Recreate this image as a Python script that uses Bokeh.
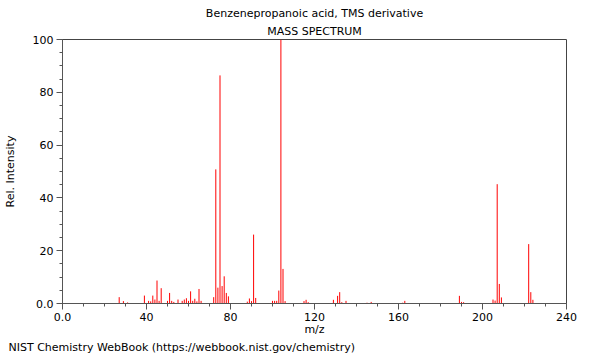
from bokeh.plotting import figure
from bokeh.models import Range1d, FixedTicker, Title, ColumnDataSource
from bokeh.embed import file_html
from bokeh.resources import INLINE

title_main = "Benzenepropanoic acid, TMS derivative"
title_sub = "MASS SPECTRUM"
x_label = "m/z"
y_label = "Rel. Intensity"
footer = "NIST Chemistry WebBook (https://webbook.nist.gov/chemistry)"

mz = [27, 29, 31, 39, 41, 42, 43, 44, 45, 46, 47, 50, 51, 52, 53, 55, 57, 58, 59, 60,
      61, 62, 63, 64, 65, 66, 72, 73, 74, 75, 76, 77, 78, 79, 88, 89, 90, 91, 92,
      100, 101, 102, 103, 104, 105, 106, 115, 116, 117, 129, 131, 132, 133, 135,
      145, 147, 162, 163, 189, 190, 191, 205, 206, 207, 208, 209, 222, 223, 224]
intensity = [2.4, 0.9, 0.4, 3.0, 1.0, 0.8, 3.0, 1.5, 8.7, 1.0, 5.8, 1.0, 4.0, 1.0, 0.6, 1.5, 1.0, 1.5, 2.0, 1.0,
             4.6, 1.0, 1.8, 0.8, 5.5, 1.0, 2.4, 50.8, 6.0, 86.4, 6.6, 10.3, 4.0, 2.7, 0.7, 1.9, 0.9, 26.1, 2.1,
             1.0, 1.0, 1.0, 4.9, 100.0, 13.1, 0.9, 0.9, 1.4, 0.5, 1.4, 2.9, 4.3, 0.5, 1.0,
             0.3, 0.6, 0.3, 1.0, 2.9, 0.6, 0.5, 1.5, 1.1, 45.2, 7.4, 2.3, 22.5, 4.3, 1.4]

x_major = [0, 40, 80, 120, 160, 200, 240]
x_minor = [v for v in range(0, 241, 10)]
y_major = [0, 20, 40, 60, 80, 100]
y_minor = [v for v in range(0, 101, 5)]

FONT = "DejaVu Sans"
FS = "11px"
AX = "#555555"

src = ColumnDataSource(dict(x=mz, y0=[0] * len(mz), y1=intensity))

p = figure(output_backend="svg", toolbar_location=None,
           frame_width=504, frame_height=264,
           x_range=Range1d(0, 240), y_range=Range1d(0, 100),
           min_border_left=54, min_border_right=26,
           min_border_top=32, min_border_bottom=40)

p.segment(x0="x", y0="y0", x1="x", y1="y1", source=src, line_color="#ff0000", line_width=1)

# tiny outermost spacer title: pushes the titles and frame down a few pixels
p.title.text = " "
p.title.text_font_size = "1px"
p.title.standoff = 0

p.add_layout(Title(text=title_sub, align="center", text_font=FONT, text_font_size=FS,
                   text_font_style="normal", text_color="#000000", standoff=3), "above")
p.add_layout(Title(text=title_main, align="center", text_font=FONT, text_font_size=FS,
                   text_font_style="normal", text_color="#000000", standoff=3), "above")

p.add_layout(Title(text=footer, align="left", offset=-54, text_font=FONT, text_font_size=FS,
                   text_font_style="normal", text_color="#000000", standoff=0), "below")

p.xgrid.grid_line_color = None
p.ygrid.grid_line_color = None
p.outline_line_color = "#444444"
p.background_fill_color = "white"
p.border_fill_color = "white"

p.xaxis.ticker = FixedTicker(ticks=x_major, minor_ticks=x_minor)
p.yaxis.ticker = FixedTicker(ticks=y_major, minor_ticks=y_minor)
p.xaxis.major_label_overrides = {0: "0.0"}
p.yaxis.major_label_overrides = {0: "0.0"}
p.xaxis.axis_label = x_label
p.yaxis.axis_label = y_label

for ax in (p.xaxis, p.yaxis):
    ax.axis_line_color = AX
    ax.major_tick_line_color = AX
    ax.minor_tick_line_color = AX
    ax.major_tick_in = 0
    ax.major_tick_out = 6
    ax.minor_tick_in = 0
    ax.minor_tick_out = 3
    ax.major_label_text_font = FONT
    ax.major_label_text_font_size = FS
    ax.major_label_text_color = "#000000"
    ax.axis_label_text_font = FONT
    ax.axis_label_text_font_size = FS
    ax.axis_label_text_font_style = "normal"
    ax.axis_label_text_color = "#000000"
    ax.major_label_standoff = 3

p.xaxis.major_label_standoff = 3
p.xaxis.axis_label_standoff = -1
p.yaxis.axis_label_standoff = 13
p.yaxis.major_label_orientation = "horizontal"

open("out.html", "w").write(file_html(p, INLINE))
